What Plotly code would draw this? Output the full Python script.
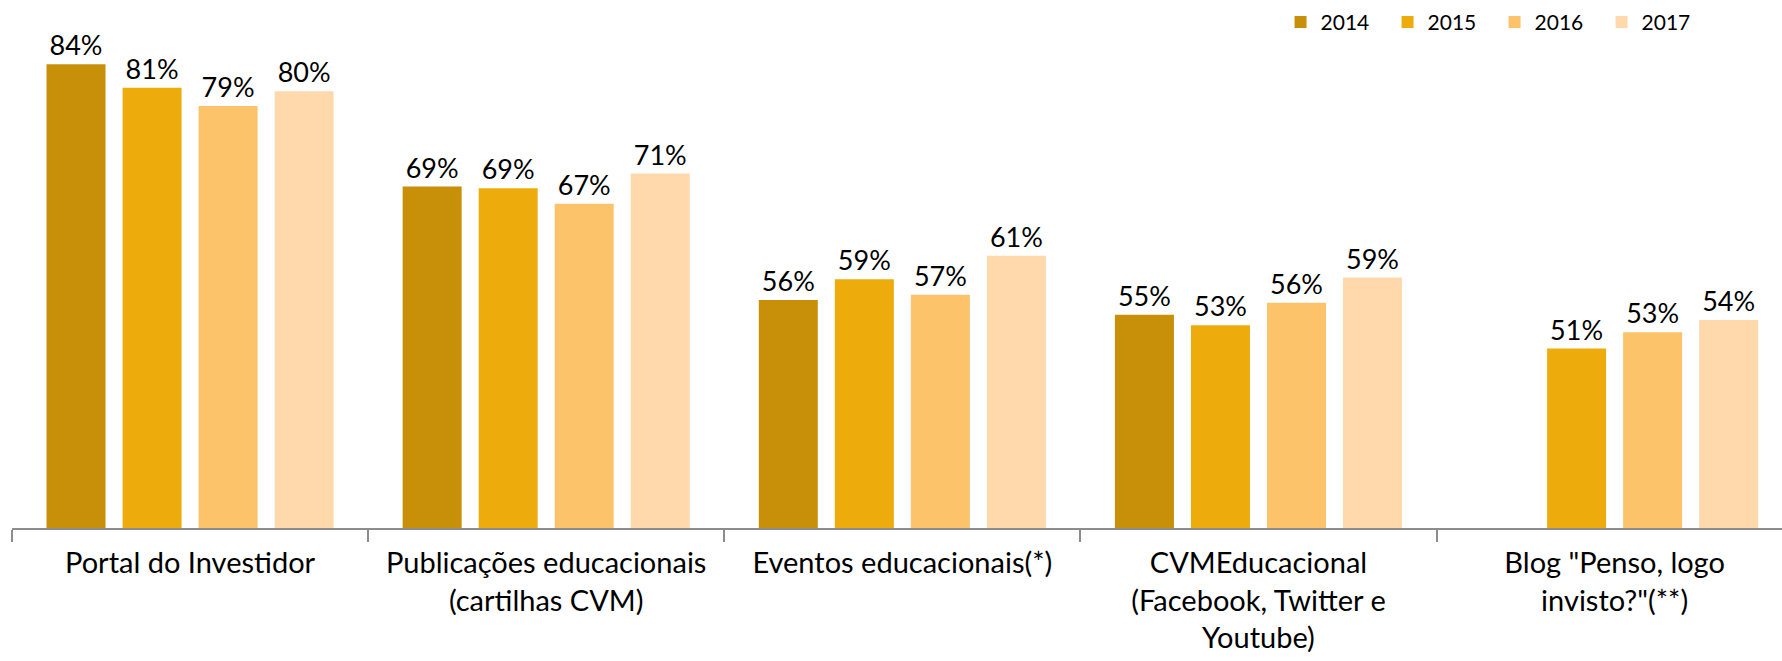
import plotly.graph_objects as go

# canais educacionais da CVM - share por ano
categorias = [
    "Portal do Investidor",
    "Publicações educacionais<br>(cartilhas CVM)",
    "Eventos educacionais(*)",
    "CVMEducacional<br>(Facebook, Twitter e<br>Youtube)",
    'Blog "Penso, logo<br>invisto?"(**)',
]
anos = ["2014", "2015", "2016", "2017"]
v2014 = [0.835, 0.694, 0.563, 0.546, None]
v2015 = [0.808, 0.692, 0.587, 0.534, 0.507]
v2016 = [0.787, 0.674, 0.569, 0.560, 0.526]
v2017 = [0.804, 0.709, 0.614, 0.589, 0.540]
cores = ["#C89008", "#EDAC0C", "#FCC36A", "#FFD9AC"]

FONTE = "Lato"

fig = go.Figure()
for ano, vals, cor in zip(anos, [v2014, v2015, v2016, v2017], cores):
    fig.add_trace(go.Bar(
        x=categorias, y=vals, name=ano,
        marker=dict(color=cor, line=dict(width=0)),
        texttemplate="%{y:.0%}", textposition="outside",
        textfont=dict(family=FONTE, size=27, color="#000000"),
        cliponaxis=False,
    ))

fig.update_layout(
    width=1782, height=661,
    margin=dict(l=12, r=0, t=8, b=133, autoexpand=False),
    paper_bgcolor="white", plot_bgcolor="white",
    barmode="group", bargap=0.146, bargroupgap=0.224,
    font=dict(family=FONTE, color="#000000"),
    showlegend=True,
    legend=dict(
        orientation="h",
        x=0.9585, xanchor="right", y=1.012, yanchor="top",
        font=dict(family=FONTE, size=21, color="#000000"),
        entrywidth=62, itemwidth=30, traceorder="normal",
        bgcolor="rgba(0,0,0,0)",
    ),
)
fig.update_xaxes(
    type="category", range=[-0.5, 4.47], automargin=False,
    showline=True, linecolor="#8c8c8c", linewidth=2,
    ticks="outside", tickson="boundaries", ticklen=12, tickcolor="#8c8c8c", tickwidth=2,
    tickfont=dict(family=FONTE, size=29, color="#000000"),
    ticklabelstandoff=8,
    showgrid=False, zeroline=False,
)
fig.update_yaxes(range=[0.3, 0.9], visible=False, showgrid=False, automargin=False)

# tira a margem padrão do <body> para a figura ficar colada no canto
fig.write_html(
    "out.html",
    config={"displayModeBar": False},
    post_script="document.body.style.margin='0px';",
)
